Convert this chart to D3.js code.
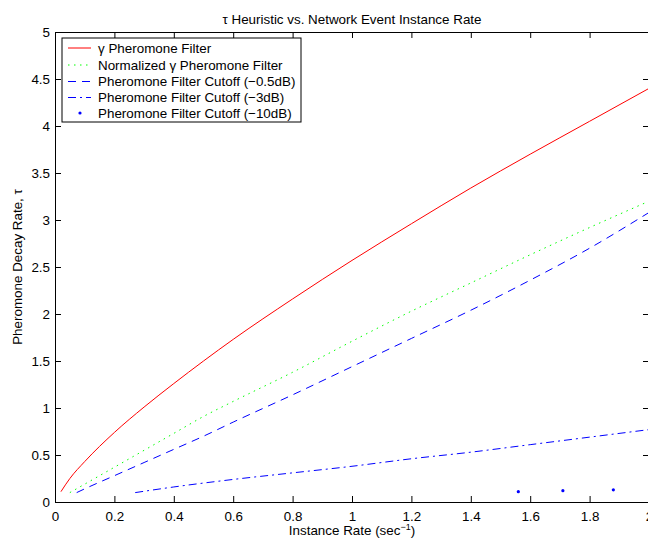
<!DOCTYPE html>
<html><head><meta charset="utf-8">
<script src="https://cdn.jsdelivr.net/npm/d3@7"></script>
<style>
html,body{margin:0;padding:0;background:#fff;}
svg{display:block;}
text{font-family:"Liberation Sans",Arial,Helvetica,sans-serif;fill:#000;}
</style></head>
<body>
<svg id="chart" width="648" height="542"></svg>
<script>
// ---- data ----
const xTicks = [0,0.2,0.4,0.6,0.8,1,1.2,1.4,1.6,1.8,2];
const yTicks = [0,0.5,1,1.5,2,2.5,3,3.5,4,4.5,5];
const seriesNames = ["\u03b3 Pheromone Filter","Normalized \u03b3 Pheromone Filter","Pheromone Filter Cutoff (\u22120.5dB)","Pheromone Filter Cutoff (\u22123dB)","Pheromone Filter Cutoff (\u221210dB)"];

const redX = [0.02,0.05,0.1,0.2,0.3,0.4,0.5,0.6,0.8,1.0,1.2,1.4,1.6,1.8,2.0];
const redY = [0.11,0.25,0.43,0.74,1.01,1.26,1.50,1.73,2.16,2.57,2.96,3.34,3.70,4.05,4.40];

const greenX = [0.05,0.1,0.2,0.3,0.4,0.5,0.6,0.8,1.0,1.2,1.4,1.6,1.8,2.0];
const greenY = [0.10,0.19,0.37,0.55,0.73,0.91,1.07,1.38,1.71,2.03,2.33,2.63,2.92,3.20];

const dashX = [0.073,0.1,0.2,0.3,0.4,0.5,0.6,0.8,1.0,1.2,1.4,1.6,1.8,2.0];
const dashY = [0.10,0.14,0.28,0.42,0.56,0.70,0.85,1.14,1.44,1.74,2.04,2.36,2.70,3.08];

const dashDotX = [0.27,0.4,0.6,0.8,1.0,1.2,1.4,1.6,1.8,2.0];
const dashDotY = [0.10,0.16,0.24,0.31,0.38,0.46,0.53,0.61,0.69,0.77];

const dotX = [1.56,1.71,1.88];
const dotY = [0.11,0.12,0.13];

// ---- layout ----
const svg = d3.select("#chart");
const L = 55, R = 649, T = 32, B = 502;
const x = d3.scaleLinear().domain([0,2]).range([L,R]);
const y = d3.scaleLinear().domain([0,5]).range([B,T]);
const FS = 13.4;

const zip = (a,b) => a.map((v,i)=>[v,b[i]]);
const line = d3.line().x(d=>x(d[0])).y(d=>y(d[1]));

// title
svg.append("text").attr("x",(L+R)/2).attr("y",24).attr("text-anchor","middle")
  .style("font-size",FS+"px").text("\u03c4 Heuristic vs. Network Event Instance Rate");

// axes (ticks inward, box)
const tl = 6;
const gB = svg.append("g").attr("transform",`translate(0,${B})`)
  .call(d3.axisBottom(x).tickValues(xTicks).tickSizeInner(-tl).tickSizeOuter(0).tickPadding(9).tickFormat(d3.format("")));
const gT = svg.append("g").attr("transform",`translate(0,${T})`)
  .call(d3.axisTop(x).tickValues(xTicks).tickSizeInner(-tl).tickSizeOuter(0).tickFormat(""));
const gL = svg.append("g").attr("transform",`translate(${L},0)`)
  .call(d3.axisLeft(y).tickValues(yTicks).tickSizeInner(-tl).tickSizeOuter(0).tickPadding(5).tickFormat(d3.format("")));
const gR = svg.append("g").attr("transform",`translate(${R},0)`)
  .call(d3.axisRight(y).tickValues(yTicks).tickSizeInner(-tl).tickSizeOuter(0).tickFormat(""));
[gB,gT,gL,gR].forEach(g=>{
  g.selectAll("path.domain").attr("stroke","#000").attr("stroke-width",1);
  g.selectAll(".tick line").attr("stroke","#000");
  g.selectAll("text").style("font-size",FS+"px").attr("font-family",null);
});
gB.selectAll("text").attr("dy","0.71em");

// axis labels
const xl = svg.append("text").attr("x",(L+R)/2).attr("y",535).attr("text-anchor","middle").style("font-size",FS+"px");
xl.append("tspan").text("Instance Rate (sec");
xl.append("tspan").attr("dy",-5).style("font-size","9px").text("\u22121");
xl.append("tspan").attr("dy",5).text(")");
svg.append("text").attr("transform",`translate(22,${(T+B)/2}) rotate(-90)`).attr("text-anchor","middle")
  .style("font-size",FS+"px").text("Pheromone Decay Rate, \u03c4");

// series
const styles = [
  {color:"#ff0000", dash:null},
  {color:"#00ff00", dash:"1.5,4.5"},
  {color:"#0000ff", dash:"8,6"},
  {color:"#0000ff", dash:"8,4,2,4"}
];
const data = [zip(redX,redY), zip(greenX,greenY), zip(dashX,dashY), zip(dashDotX,dashDotY)];
svg.append("clipPath").attr("id","pc").append("rect").attr("x",L).attr("y",T).attr("width",R-L).attr("height",B-T);
data.forEach((d,i)=>{
  svg.append("path").datum(d).attr("d",line.curve(d3.curveMonotoneX)).attr("fill","none")
    .attr("stroke",styles[i].color).attr("stroke-width",1)
    .attr("stroke-dasharray",styles[i].dash).attr("clip-path","url(#pc)");
});
svg.selectAll("circle.dot").data(zip(dotX,dotY)).enter().append("circle")
  .attr("cx",d=>x(d[0])).attr("cy",d=>y(d[1])).attr("r",1.6).attr("fill","#0000ff");

// legend
const lg = svg.append("g");
lg.append("rect").attr("x",62).attr("y",38).attr("width",239).attr("height",84)
  .attr("fill","#fff").attr("stroke","#000").attr("stroke-width",1);
const rowY = [48,65,81.5,97.5,113];
seriesNames.forEach((name,i)=>{
  if(i<4){
    lg.append("line").attr("x1",68).attr("x2",91).attr("y1",rowY[i]).attr("y2",rowY[i])
      .attr("stroke",styles[i].color).attr("stroke-width",1).attr("stroke-dasharray",styles[i].dash);
  } else {
    lg.append("circle").attr("cx",80).attr("cy",rowY[i]).attr("r",1.6).attr("fill","#0000ff");
  }
  lg.append("text").attr("x",98).attr("y",rowY[i]).attr("dy","0.35em").style("font-size",FS+"px").text(name);
});
</script>
</body></html>
